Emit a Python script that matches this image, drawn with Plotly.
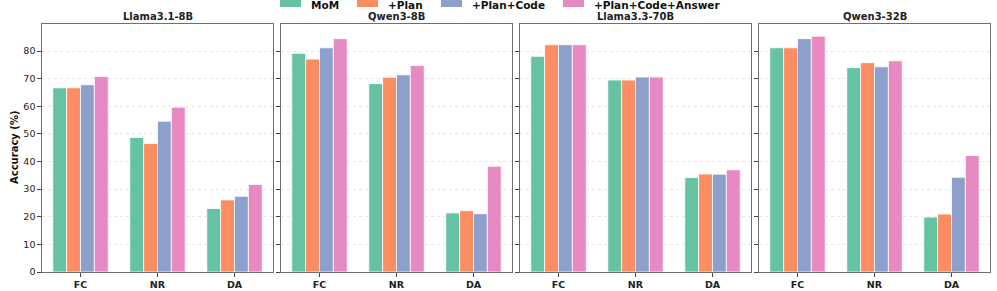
import plotly.graph_objects as go

models = ["Llama3.1-8B", "Qwen3-8B", "Llama3.3-70B", "Qwen3-32B"]
tasks = ["FC", "NR", "DA"]
series = ["MoM", "+Plan", "+Plan+Code", "+Plan+Code+Answer"]
colors = ["#66c2a5", "#fc8d62", "#8da0cb", "#e78ac3"]

mom = [[66.7, 48.7, 23.0], [79.2, 68.2, 21.4], [78.1, 69.5, 34.2], [81.2, 74.0, 19.9]]
plan = [[66.7, 46.5, 26.1], [77.1, 70.5, 22.2], [82.3, 69.5, 35.5], [81.2, 75.8, 21.0]]
plan_code = [[67.8, 54.6, 27.4], [81.2, 71.4, 21.1], [82.3, 70.6, 35.4], [84.5, 74.3, 34.3]]
plan_code_answer = [[70.8, 59.7, 31.7], [84.5, 74.8, 38.3], [82.3, 70.6, 37.0], [85.4, 76.5, 42.2]]
values = [mom, plan, plan_code, plan_code_answer]

yticks = [0, 10, 20, 30, 40, 50, 60, 70, 80]

W, H = 997, 291
L, R, T, B = 42, 7, 24, 19
pw = W - L - R
ph = H - T - B
panel_px = [(0, 231), (239, 470), (478, 709), (717, 948)]

fig = go.Figure()
for m in range(len(models)):
    for s in range(len(series)):
        fig.add_trace(go.Bar(
            x=tasks, y=values[s][m], name=series[s],
            marker=dict(color=colors[s], line=dict(color="white", width=0.8)),
            xaxis="x" if m == 0 else f"x{m+1}",
            yaxis="y" if m == 0 else f"y{m+1}",
            offsetgroup=str(s),
            showlegend=False,
        ))

layout = dict(
    width=W, height=H,
    margin=dict(l=L, r=R, t=T, b=B, autoexpand=False),
    plot_bgcolor="white", paper_bgcolor="white",
    barmode="group", bargap=0.28, bargroupgap=0,
    font=dict(family="DejaVu Sans", size=9.5, color="#222"),
    showlegend=False,
)
annotations = []
shapes = []
for m in range(len(models)):
    k = "" if m == 0 else str(m + 1)
    d0, d1 = panel_px[m]
    layout[f"xaxis{k}"] = dict(
        domain=[d0 / pw, d1 / pw], anchor=f"y{k}", automargin=False,
        showline=True, mirror=True, linecolor="#6f6f6f", linewidth=1.3,
        ticks="outside", ticklen=3.5, tickcolor="#444", tickwidth=0.9,
        tickfont=dict(size=9.5, family="DejaVu Sans", weight="bold", color="#222"),
        range=[-0.5, 2.5], showgrid=False,
    )
    ya = dict(
        domain=[0, 1], anchor=f"x{k}", range=[0, 89.8], automargin=False,
        tickvals=yticks, showticklabels=(m == 0),
        showline=True, mirror=True, linecolor="#6f6f6f", linewidth=1.3,
        ticks="outside", ticklen=3.5, tickcolor="#444", tickwidth=0.9,
        showgrid=True, gridcolor="#e6e6e6", griddash="dot", gridwidth=0.8,
        zeroline=False, tickfont=dict(size=9.5, color="#222"),
    )
    if m != 0:
        ya["matches"] = "y"
    layout[f"yaxis{k}"] = ya
    annotations.append(dict(
        text=f"<b>{models[m]}</b>", x=(d0 + d1) / 2 / pw, xref="paper",
        y=1.0, yref="paper", yanchor="bottom", xanchor="center", yshift=0,
        showarrow=False, font=dict(size=10, family="DejaVu Sans", color="#222"),
    ))

# y-axis title
annotations.append(dict(
    text="<b>Accuracy (%)</b>", textangle=-90, x=(14 - L) / pw, xref="paper",
    y=0.5, yref="paper", xanchor="center", yanchor="middle", showarrow=False,
    font=dict(size=10, family="DejaVu Sans", color="#111"),
))

# legend drawn manually (matplotlib-style wide swatches)
leg_swatch_x = [280, 357, 441, 563]
sw_w, sw_top, sw_bot, txt_y = 21, -3, 7, 4.5
for s in range(len(series)):
    x0 = leg_swatch_x[s]
    shapes.append(dict(
        type="rect", xref="paper", yref="paper",
        x0=(x0 - L) / pw, x1=(x0 + sw_w - L) / pw,
        y0=(H - B - sw_bot) / ph, y1=(H - B - sw_top) / ph,
        fillcolor=colors[s], line=dict(width=0), layer="above",
    ))
    annotations.append(dict(
        text=f"<b>{series[s]}</b>", x=(x0 + sw_w + 8 - L) / pw, xref="paper",
        y=(H - B - txt_y) / ph, yref="paper", xanchor="left", yanchor="middle",
        showarrow=False, font=dict(size=10.5, family="DejaVu Sans", color="#111"),
    ))
layout["annotations"] = annotations
layout["shapes"] = shapes
fig.update_layout(**layout)
fig.write_html(
    "out.html",
    config={"displayModeBar": False},
    post_script="document.body.style.margin='0';document.body.style.overflow='hidden';",
)
